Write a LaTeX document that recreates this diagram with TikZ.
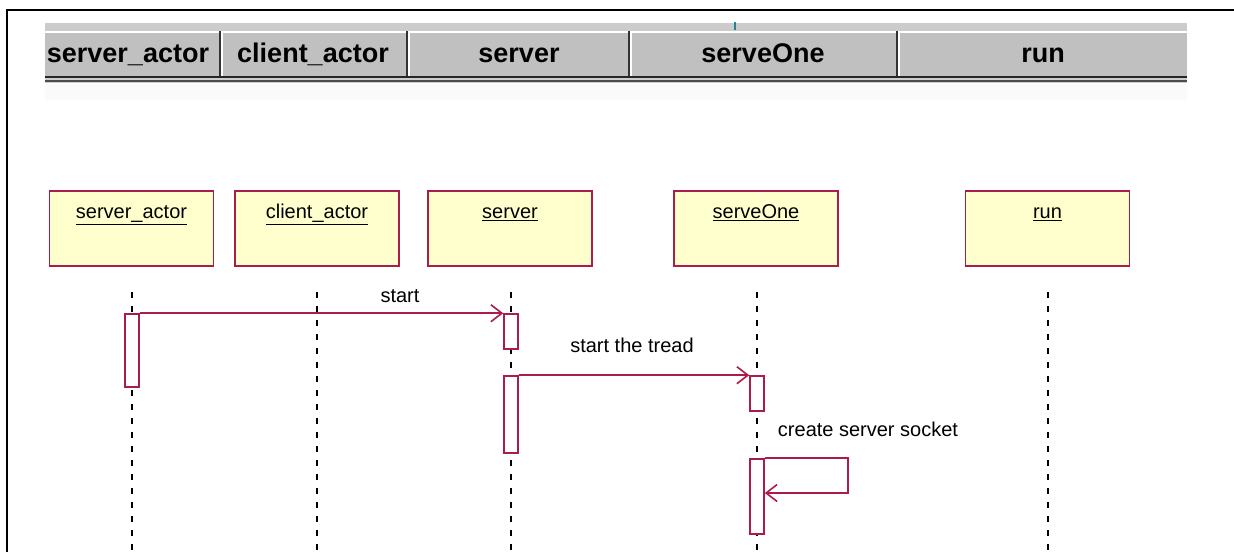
\documentclass[tikz,border=0pt]{standalone}
\usepackage{fontspec}
\setmainfont{Liberation Sans}
\usetikzlibrary{arrows.meta}
\definecolor{crim}{RGB}{172,28,72}
\definecolor{objfill}{RGB}{255,255,206}
\definecolor{btn}{RGB}{192,192,192}
\definecolor{band}{RGB}{204,204,204}
\definecolor{teal}{RGB}{40,130,140}
\tikzset{
  obj/.style={draw=crim, line width=1.6pt, fill=objfill, minimum width=164pt, minimum height=75pt, inner sep=0pt},
  objlabel/.style={font=\fontsize{20}{24}\selectfont, anchor=north, inner sep=0pt, text height=15pt, text depth=5pt},
  hdr/.style={font=\fontsize{27}{30}\selectfont\bfseries, inner sep=0pt, text height=20pt, text depth=6pt},
  life/.style={line width=1.3pt, dash pattern=on 6pt off 8pt},
  act/.style={draw=crim, line width=1.6pt, fill=white, minimum width=14pt, inner sep=0pt},
  msg/.style={draw=crim, line width=1.6pt, -{Straight Barb[length=11pt,width=17pt,line width=1.6pt]}},
  msgtext/.style={font=\fontsize{20}{24}\selectfont, inner sep=0pt, text height=15pt, text depth=5pt},
  sep/.style={line width=1.5pt, black!80},
}
\newcommand{\ulbl}[1]{\underline{\smash{#1}\vphantom{x}}}
\begin{document}
\begin{tikzpicture}[x=1pt,y=-1pt]
\useasboundingbox (0,0) rectangle (1234,552);
% outer frame
\draw[line width=2pt] (7,552) -- (7,10) -- (1234,10);
% header band
\fill[band] (45,23) rectangle (1187,83);
\fill[btn] (45,31) rectangle (1187,76);
\draw[white, line width=1.5pt] (45,32) -- (1187,32);
\draw[black!85, line width=2pt] (45,77) -- (1187,77);
\draw[black!70, line width=1.5pt] (45,81) -- (1187,81);
\fill[black!2] (45,84) rectangle (1187,100);
\fill[teal] (734,22) rectangle (736,30);
\foreach \x in {220,407,629,897} {
  \draw[sep] (\x,31) -- (\x,76);
  \draw[white, line width=1.2pt] (\x+2,33) -- (\x+2,76);
}
\begin{scope}
\clip (45,31) rectangle (1187,76);
\node[hdr] (h1) at (128,55) {server\_actor};
\end{scope}
\node[hdr] (h2) at (313,55) {client\_actor};
\node[hdr] (h3) at (519,55) {server};
\node[hdr] (h4) at (763,55) {serveOne};
\node[hdr] (h5) at (1043,55) {run};
% objects
\node[obj] (sa) at (131.5,228.5) {};
\node[obj] (ca) at (317,228.5) {};
\node[obj] (sv) at (510,228.5) {};
\node[obj] (so) at (756,228.5) {};
\node[obj] (rn) at (1047.5,228.5) {};
\node[objlabel] (lsa) at ([yshift=-13pt]sa.north) {\underline{server\_actor}};
\node[objlabel] (lca) at ([yshift=-13pt]ca.north) {\underline{client\_actor}};
\node[objlabel] (lsv) at ([yshift=-13pt]sv.north) {\underline{server}};
\node[objlabel] (lso) at ([yshift=-13pt]so.north) {\underline{serveOne}};
\node[objlabel] (lrn) at ([yshift=-13pt]rn.north) {\underline{run}};
% lifelines
\foreach \n/\x in {sa/132,ca/317,sv/511,so/757,rn/1048} {
  \coordinate (\n-t) at (\x,292);
  \coordinate (\n-b) at (\x,552);
  \draw[life] (\n-t) -- (\n-b);
}
% activations
\node[act, minimum height=73pt] (a1) at (132,350.5) {};
\node[act, minimum height=35pt] (a2) at (511,331.5) {};
\node[act, minimum height=77pt] (a3) at (511,414.5) {};
\node[act, minimum height=35pt] (a4) at (757,393.5) {};
\node[act, minimum height=75pt] (a5) at (757,496.5) {};
% messages
\draw[msg] (a1.north east) -- (a2.north west);
\node[msgtext] (m1) at (400,297) {start};
\draw[msg] (a3.north east) -- (a4.north west);
\node[msgtext] (m2) at (632,347) {start the tread};
\coordinate (loop) at (848,493);
\draw[msg] (a5.north east) -| (loop) -- (a5.east |- loop);
\node[msgtext] (m3) at (868,431) {create server socket};
\end{tikzpicture}
\end{document}
